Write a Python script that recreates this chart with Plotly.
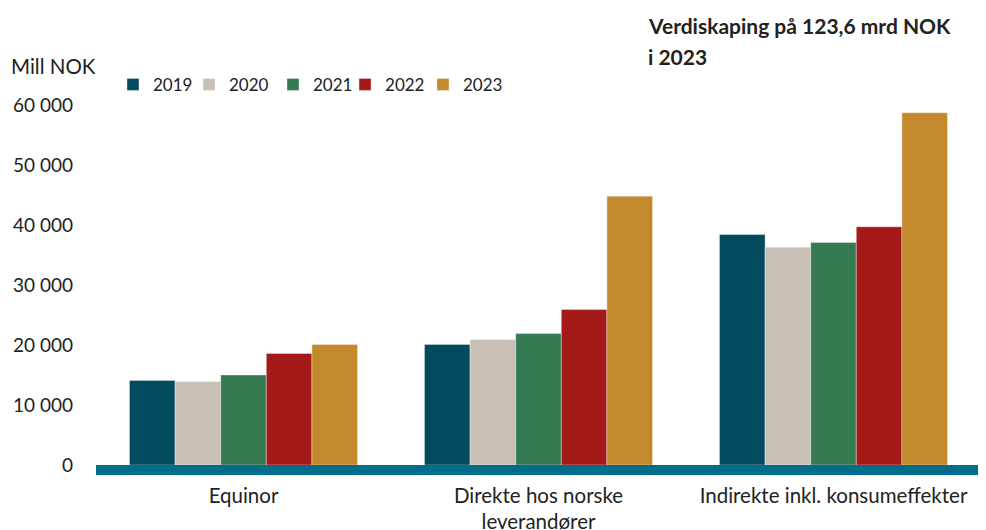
import plotly.graph_objects as go

categories = ["Equinor", "Direkte hos norske<br>leverandører", "Indirekte inkl. konsumeffekter"]
years = ["2019", "2020", "2021", "2022", "2023"]
v2019 = [14100, 20100, 38400]
v2020 = [13900, 20900, 36300]
v2021 = [15000, 21900, 37100]
v2022 = [18600, 25900, 39700]
v2023 = [20100, 44800, 58700]
series = [v2019, v2020, v2021, v2022, v2023]
colors = ["#024B5E", "#C8C0B6", "#357A53", "#A31A19", "#C4892D"]
tickvals = [0, 10000, 20000, 30000, 40000, 50000, 60000]

FONT = "Lato"
TXT = "#222222"
legend_ids = ["legend", "legend2", "legend3", "legend4", "legend5"]
legend_x = [0.0192, 0.1051, 0.2, 0.2814, 0.3695]

fig = go.Figure()
for yr, vals, col, lid in zip(years, series, colors, legend_ids):
    fig.add_trace(go.Bar(
        name=yr, x=categories, y=vals, legend=lid, showlegend=True,
        marker=dict(color=col, line=dict(color="rgba(255,255,255,0.6)", width=0.6)),
    ))

legend_common = dict(
    orientation="h", y=1.056, xanchor="left", yanchor="middle",
    font=dict(family=FONT, size=17, color=TXT),
    itemclick=False, bgcolor="rgba(0,0,0,0)", visible=True,
)
legends = {lid: dict(legend_common, x=lx) for lid, lx in zip(legend_ids, legend_x)}

fig.update_layout(
    width=986, height=530, autosize=False, showlegend=True,
    margin=dict(l=88, r=13, t=97, b=73, autoexpand=False),
    paper_bgcolor="white", plot_bgcolor="white",
    barmode="group", bargap=0.227, bargroupgap=0,
    separators=", ",
    font=dict(family=FONT, size=19, color=TXT),
    xaxis=dict(
        showline=True, linecolor="#006E8A", linewidth=10, automargin=False,
        showgrid=False, ticks="", tickfont=dict(family=FONT, size=20.5, color=TXT),
        ticklabelstandoff=3,
    ),
    yaxis=dict(
        range=[0, 60000], tickvals=tickvals, tickformat=",d", automargin=False,
        showgrid=False, zeroline=False, showline=False, ticks="",
        tickfont=dict(family=FONT, size=19, color=TXT),
        ticklabelstandoff=22,
    ),
    annotations=[
        dict(text="Mill NOK", xref="paper", yref="paper", x=-0.0985, y=1.108,
             xanchor="left", yanchor="middle", showarrow=False,
             font=dict(family=FONT, size=20.5, color=TXT)),
        dict(text="<b>Verdiskaping på 123,6 mrd NOK</b>", xref="paper", yref="paper",
             x=0.6215, y=1.222, xanchor="left", yanchor="middle", align="left", showarrow=False,
             font=dict(family=FONT, size=21, color=TXT)),
        dict(text="<b>i 2023</b>", xref="paper", yref="paper",
             x=0.6215, y=1.136, xanchor="left", yanchor="middle", align="left", showarrow=False,
             font=dict(family=FONT, size=21, color=TXT)),
    ],
    **legends,
)

fig.write_html("out.html")
